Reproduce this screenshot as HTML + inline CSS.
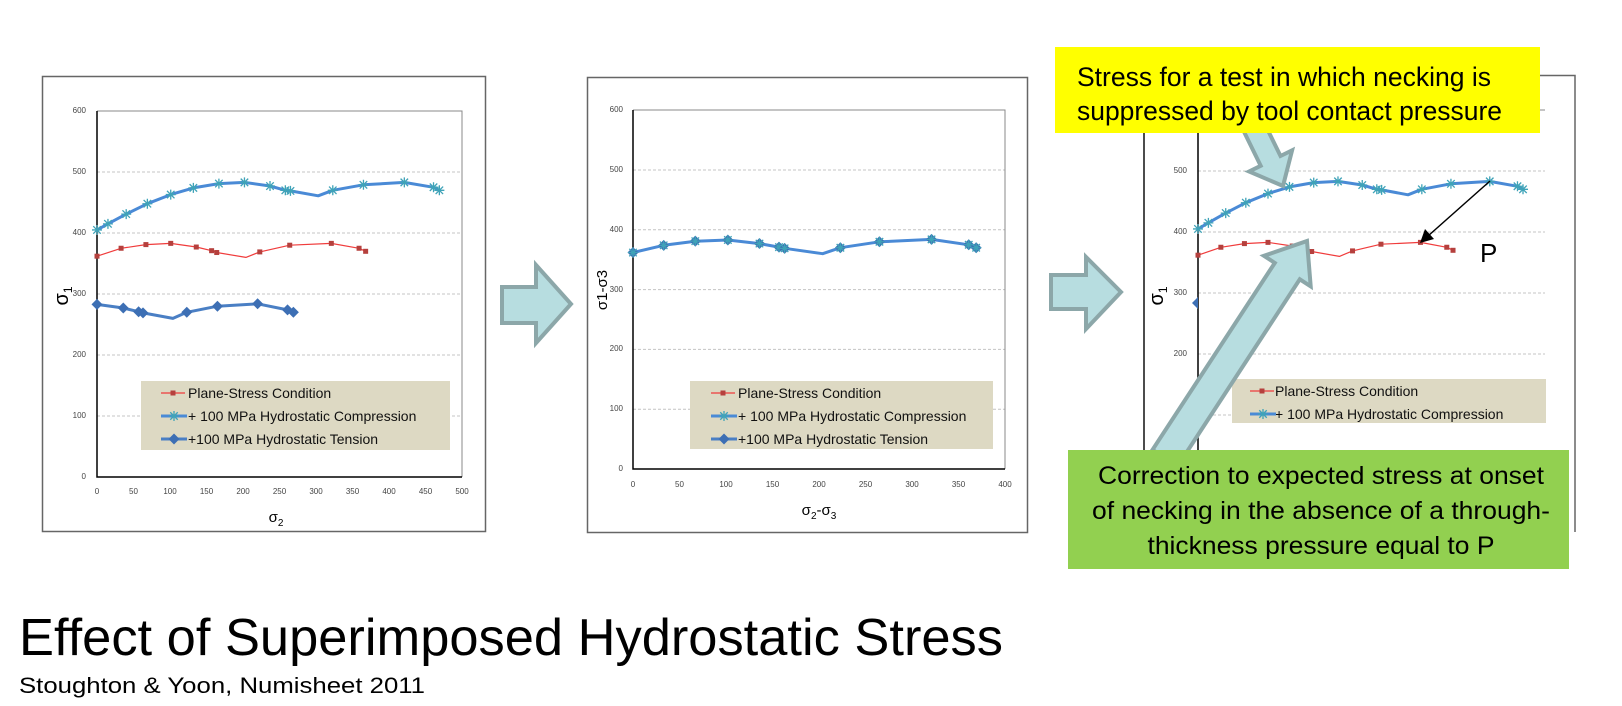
<!DOCTYPE html>
<html><head><meta charset="utf-8"><style>
html,body{margin:0;padding:0;background:#fff;width:1622px;height:706px;overflow:hidden}
svg{display:block}
text{font-family:"Liberation Sans",sans-serif}
</style></head><body>
<svg id="s" width="1622" height="706" viewBox="0 0 1622 706" xmlns="http://www.w3.org/2000/svg">
<!-- Chart 1 frame -->
<rect x="42.5" y="76.5" width="443" height="455" fill="#fff" stroke="#666" stroke-width="1.5"/>
<g id="g1"></g>
<g font-size="8" fill="#444" text-anchor="end">
<text x="86" y="113">600</text><text x="86" y="174">500</text><text x="86" y="235">400</text><text x="86" y="296">300</text><text x="86" y="357">200</text><text x="86" y="418">100</text><text x="86" y="479">0</text>
</g>
<g font-size="8" fill="#444" text-anchor="middle">
<text x="97" y="494">0</text><text x="133.5" y="494">50</text><text x="170" y="494">100</text><text x="206.5" y="494">150</text><text x="243" y="494">200</text><text x="279.5" y="494">250</text><text x="316" y="494">300</text><text x="352.5" y="494">350</text><text x="389" y="494">400</text><text x="425.5" y="494">450</text><text x="462" y="494">500</text>
</g>
<text x="0" y="0" font-size="20" transform="translate(68,296) rotate(-90)" text-anchor="middle">σ<tspan font-size="12" dy="4">1</tspan></text>
<text x="276" y="522" font-size="15" text-anchor="middle">σ<tspan font-size="10" dy="4">2</tspan></text>
<rect x="141" y="381" width="309" height="69" fill="#ddd9c3"/>
<g font-size="14" fill="#111">
<text x="188" y="398">Plane-Stress Condition</text>
<text x="188" y="421">+ 100 MPa Hydrostatic Compression</text>
<text x="188" y="444">+100 MPa Hydrostatic Tension</text>
</g>
<g id="l1"></g>

<!-- arrow 1 -->
<polygon points="502,287 536,287 536,265 571,304 536,343 536,323 502,323" fill="#b7dde0" stroke="#8ca7a9" stroke-width="4" stroke-linejoin="miter"/>

<!-- Chart 2 -->
<rect x="587.5" y="77.5" width="440" height="455" fill="#fff" stroke="#666" stroke-width="1.5"/>
<g id="g2"></g>
<g font-size="8" fill="#444" text-anchor="end">
<text x="623" y="112">600</text><text x="623" y="172">500</text><text x="623" y="232">400</text><text x="623" y="292">300</text><text x="623" y="351">200</text><text x="623" y="411">100</text><text x="623" y="471">0</text>
</g>
<g font-size="8" fill="#444" text-anchor="middle">
<text x="633" y="487">0</text><text x="679.5" y="487">50</text><text x="726" y="487">100</text><text x="772.5" y="487">150</text><text x="819" y="487">200</text><text x="865.5" y="487">250</text><text x="912" y="487">300</text><text x="958.5" y="487">350</text><text x="1005" y="487">400</text>
</g>
<text x="0" y="0" font-size="15" transform="translate(607,290) rotate(-90)" text-anchor="middle">σ1-σ3</text>
<text x="819" y="515" font-size="15" text-anchor="middle">σ<tspan font-size="10" dy="4">2</tspan><tspan dy="-4">-σ</tspan><tspan font-size="10" dy="4">3</tspan></text>
<rect x="690" y="381" width="303" height="68" fill="#ddd9c3"/>
<g font-size="14" fill="#111">
<text x="738" y="398">Plane-Stress Condition</text>
<text x="738" y="421">+ 100 MPa Hydrostatic Compression</text>
<text x="738" y="444">+100 MPa Hydrostatic Tension</text>
</g>
<g id="l2"></g>

<!-- arrow A -->
<polygon points="1051,275 1086,275 1086,257 1121,292 1086,329 1086,309 1051,309" fill="#b7dde0" stroke="#8ca7a9" stroke-width="4"/>

<!-- Chart 3 -->
<line x1="1144" y1="130" x2="1144" y2="452" stroke="#111" stroke-width="1.5"/>
<polyline points="1500,75.5 1575,75.5 1575,532" fill="none" stroke="#666" stroke-width="1.5"/>
<g id="g3"></g>
<g font-size="8" fill="#444" text-anchor="end">
<text x="1187" y="173">500</text><text x="1187" y="234">400</text><text x="1187" y="295">300</text><text x="1187" y="356">200</text>
</g>
<text x="0" y="0" font-size="20" transform="translate(1163,296) rotate(-90)" text-anchor="middle">σ<tspan font-size="12" dy="4">1</tspan></text>
<rect x="1232" y="379" width="314" height="44" fill="#ddd9c3"/>
<g font-size="14" fill="#111">
<text x="1275" y="396">Plane-Stress Condition</text>
<text x="1275" y="419">+ 100 MPa Hydrostatic Compression</text>
</g>
<g id="l3"></g>
<!-- black arrow P -->
<line x1="1490" y1="181" x2="1428" y2="236" stroke="#000" stroke-width="1.5"/>
<polygon points="1420,243 1425,229 1434,239" fill="#000"/>
<text x="1480" y="262" font-size="26" fill="#000">P</text>

<!-- arrow B -->
<polygon points="1243.1,129.9 1260.7,165.8 1249.1,171.5 1283,186 1292.1,150.3 1280.5,156 1262.9,120.1" fill="#b7dde0" stroke="#8ca7a9" stroke-width="4"/>
<!-- yellow box -->
<rect x="1055" y="47" width="485" height="86" fill="#ffff00"/>
<g font-size="27" fill="#000">
<text x="1077" y="86" textLength="414" lengthAdjust="spacingAndGlyphs">Stress for a test in which necking is</text>
<text x="1077" y="120" textLength="425" lengthAdjust="spacingAndGlyphs">suppressed by tool contact pressure</text>
</g>
<!-- arrow C -->
<polygon points="1152.5,449.8 1274.8,262.9 1263.9,255.8 1307,241 1310.7,286.4 1299.8,279.3 1177.5,466.2" fill="#b7dde0" stroke="#8ca7a9" stroke-width="4"/>
<!-- green box -->
<rect x="1068" y="450" width="501" height="119" fill="#92d050"/>
<g font-size="25" fill="#000" text-anchor="middle">
<text x="1321" y="484" textLength="446" lengthAdjust="spacingAndGlyphs">Correction to expected stress at onset</text>
<text x="1321" y="519" textLength="458" lengthAdjust="spacingAndGlyphs">of necking in the absence of a through-</text>
<text x="1321" y="554" textLength="347" lengthAdjust="spacingAndGlyphs">thickness pressure equal to P</text>
</g>

<!-- titles -->
<text x="19" y="655" font-size="52" fill="#000" textLength="984" lengthAdjust="spacingAndGlyphs" font-family="'Liberation Sans Narrow','Liberation Sans',sans-serif">Effect of Superimposed Hydrostatic Stress</text>
<text x="19" y="693" font-size="22" fill="#000" textLength="406" lengthAdjust="spacingAndGlyphs" font-family="'Liberation Sans Narrow','Liberation Sans',sans-serif">Stoughton &amp; Yoon, Numisheet 2011</text>
</svg>
<script>
(function(){
var NS="http://www.w3.org/2000/svg";
function el(p,t,a){var e=document.createElementNS(NS,t);for(var k in a)e.setAttribute(k,a[k]);p.appendChild(e);return e;}
var red=[[0,362],[33,375],[67,381],[101,383],[136,377],[157,371],[164,368],[204,360],[223,369],[264,380],[321,383],[359,375],[368,370]];
var comp=[[0,405],[15,415],[40,431],[69,448],[101,463],[132,474],[167,481],[202,483],[237,477],[258,470],[265,469],[303,461],[323,470],[365,479],[421,483],[461,475],[469,470]];
var ten=[[0,283],[36,277],[57,271],[63,269],[104,260],[123,270],[165,280],[220,284],[261,274],[269,270]];
var red2=[[0,362],[33,374],[67,381],[102,383],[136,377],[157,371],[163,369],[204,360],[223,370],[265,380],[321,384],[361,375],[369,370]];
function sq(g,x,y){el(g,"rect",{x:x-2.5,y:y-2.5,width:5,height:5,fill:"#b5403d"});}
function star(g,x,y){var r=5;el(g,"path",{d:"M"+(x-r)+" "+y+"H"+(x+r)+"M"+x+" "+(y-r)+"V"+(y+r)+"M"+(x-r*.75)+" "+(y-r*.75)+"L"+(x+r*.75)+" "+(y+r*.75)+"M"+(x-r*.75)+" "+(y+r*.75)+"L"+(x+r*.75)+" "+(y-r*.75),stroke:"#3fa3b8","stroke-width":1.3,fill:"none"});}
function dia(g,x,y){var r=5.5;el(g,"polygon",{points:x+","+(y-r)+" "+(x+r)+","+y+" "+x+","+(y+r)+" "+(x-r)+","+y,fill:"#3d6fb4"});}
function plot(g,Y,x0,x1,ymax){
 for(var v=100;v<=ymax;v+=100){var yy=Y(v);el(g,"line",{x1:x0,x2:x1,y1:yy,y2:yy,stroke:"#c4c4c4","stroke-width":1,"stroke-dasharray":"3,2"});}
}
function series(g,d,X,Y,col,w,mk,skip){
 var pts=d.map(function(p){return X(p[0]).toFixed(1)+","+Y(p[1]).toFixed(1)}).join(" ");
 el(g,"polyline",{points:pts,fill:"none",stroke:col,"stroke-width":w,"stroke-linejoin":"round"});
 d.forEach(function(p,i){if(skip&&skip.indexOf(i)>=0)return;mk(g,X(p[0]),Y(p[1]));});
}
var g1=document.getElementById("g1");
var X1=function(v){return 97+0.73*v},Y1=function(v){return 477-0.61*v};
plot(g1,Y1,97,462,500);
el(g1,"polyline",{points:"97,111 462,111 462,477",fill:"none",stroke:"#888","stroke-width":1});
el(g1,"polyline",{points:"97,111 97,477 462,477",fill:"none",stroke:"#000","stroke-width":1.5});
series(g1,red,X1,Y1,"#f03c3c",1.2,sq,[7]);
series(g1,comp,X1,Y1,"#4a8ad6",3,star,[11]);
series(g1,ten,X1,Y1,"#4a7fc4",3,dia,[4]);
var g2=document.getElementById("g2");
var X2=function(v){return 633+0.93*v},Y2=function(v){return 469-0.598*v};
plot(g2,Y2,633,1005,500);
el(g2,"polyline",{points:"633,110 1005,110 1005,469",fill:"none",stroke:"#888","stroke-width":1});
el(g2,"polyline",{points:"633,110 633,469 1005,469",fill:"none",stroke:"#000","stroke-width":1.5});
series(g2,red2,X2,Y2,"#4a8ad6",3,function(g,x,y){dia(g,x,y);star(g,x,y);},[7]);
var g3=document.getElementById("g3");
var X3=function(v){return 1198+0.693*v},Y3=function(v){return 476-0.61*v};
plot(g3,Y3,1198,1545,500);
el(g3,"line",{x1:1198,x2:1545,y1:110,y2:110,stroke:"#888","stroke-width":1});
el(g3,"line",{x1:1198,x2:1198,y1:110,y2:460,stroke:"#000","stroke-width":1.5});
series(g3,red,X3,Y3,"#f03c3c",1.2,sq,[7]);
series(g3,comp,X3,Y3,"#4a8ad6",3,star,[11]);
el(g3,"polygon",{points:"1198,297 1198,309 1192,303",fill:"#3d6fb4"});
function leg(id,x,ys,n){var g=document.getElementById(id);
 el(g,"line",{x1:x,x2:x+24,y1:ys[0],y2:ys[0],stroke:"#f03c3c","stroke-width":1.2});sq(g,x+12,ys[0]);
 el(g,"line",{x1:x,x2:x+26,y1:ys[1],y2:ys[1],stroke:"#4a8ad6","stroke-width":3});star(g,x+13,ys[1]);
 if(n>2){el(g,"line",{x1:x,x2:x+26,y1:ys[2],y2:ys[2],stroke:"#4a7fc4","stroke-width":3});dia(g,x+13,ys[2]);}
}
leg("l1",161,[393,416,439],3);
leg("l2",711,[393,416,439],3);
leg("l3",1250,[391,414],2);
})();
</script>
</body></html>
